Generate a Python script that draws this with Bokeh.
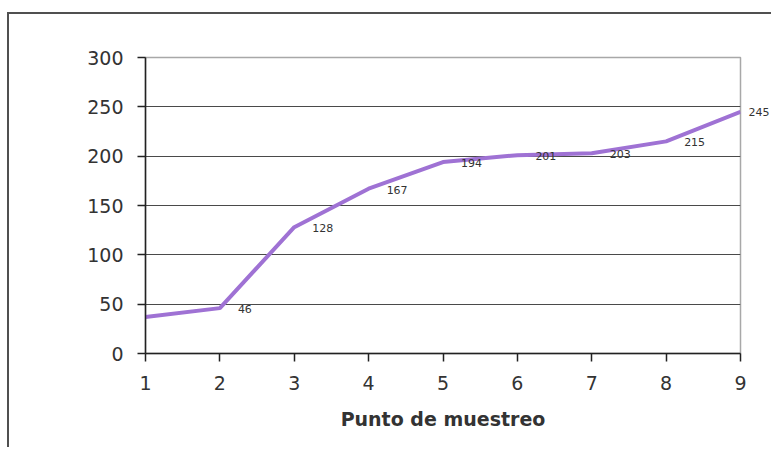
from bokeh.plotting import figure
from bokeh.models import ColumnDataSource, LabelSet, Range1d, FixedTicker, Spacer, LinearAxis
from bokeh.layouts import column, row
from bokeh.core.properties import value
from bokeh.embed import file_html
from bokeh.resources import INLINE

# Data
puntos = [1, 2, 3, 4, 5, 6, 7, 8, 9]
valores = [37, 46, 128, 167, 194, 201, 203, 215, 245]
etiquetas = ["", "46", "128", "167", "194", "201", "203", "215", "245"]
y_ticks = [0, 50, 100, 150, 200, 250, 300]

FONT = "DejaVu Sans"

p = figure(width=764, height=435, output_backend="svg", toolbar_location=None,
           x_range=Range1d(1, 9), y_range=Range1d(0, 300),
           min_border_left=136, min_border_right=33, min_border_top=43, min_border_bottom=96)
p.styles = {"border-left": "2px solid #505050", "border-top": "2px solid #505050"}

p.background_fill_color = "white"
p.border_fill_color = "white"
p.outline_line_color = "#a8a8a8"
p.outline_line_width = 1.5

# grid
p.xgrid.grid_line_color = None
p.ygrid.ticker = FixedTicker(ticks=y_ticks[1:])
p.ygrid.grid_line_color = "#4a4a4a"
p.ygrid.grid_line_width = 1.2

# axes
for ax in (p.xaxis[0], p.yaxis[0]):
    ax.axis_line_color = "#222222"
    ax.axis_line_width = 1.5
    ax.major_tick_line_color = "#222222"
    ax.major_tick_line_width = 1.5
    ax.major_tick_in = 0
    ax.major_tick_out = 8
    ax.minor_tick_line_color = None
    ax.major_label_text_font = FONT
    ax.major_label_text_font_size = "19px"
    ax.major_label_text_color = "#333333"
    ax.major_label_standoff = 14

p.xaxis.ticker = FixedTicker(ticks=puntos)
p.yaxis.ticker = FixedTicker(ticks=y_ticks)
p.xaxis.axis_label = "Punto de muestreo"
p.xaxis.axis_label_text_font = FONT
p.xaxis.axis_label_text_font_size = "19px"
p.xaxis.axis_label_text_font_style = "bold"
p.xaxis.axis_label_text_color = "#333333"
p.xaxis.axis_label_standoff = 15

src = ColumnDataSource(dict(x=puntos, y=valores))
p.line("x", "y", source=src, line_color="#9F72D4", line_width=4)

# data labels (all but the last, which sits outside the frame)
lab_src = ColumnDataSource(dict(x=puntos[:-1], y=valores[:-1], lab=etiquetas[:-1]))
labels = LabelSet(x="x", y="y", text="lab", source=lab_src, x_offset=18, y_offset=-1,
                  text_align="left", text_baseline="middle",
                  text_font=value(FONT), text_font_size="11px", text_color="#333333")
p.add_layout(labels)

# last label drawn right of the frame via a tick-label-only right axis
last_axis = LinearAxis(ticker=FixedTicker(ticks=[valores[-1]]),
                       major_label_overrides={valores[-1]: etiquetas[-1]},
                       axis_line_color=None, major_tick_line_color=None,
                       minor_tick_line_color=None, major_tick_out=0,
                       major_label_standoff=8, major_label_text_font=FONT,
                       major_label_text_font_size="11px", major_label_text_color="#333333")
p.add_layout(last_axis, "right")

layout = row(Spacer(width=7, height=449),
             column(Spacer(width=764, height=12), p, spacing=0), spacing=0)
open("out.html", "w").write(file_html(layout, INLINE))
